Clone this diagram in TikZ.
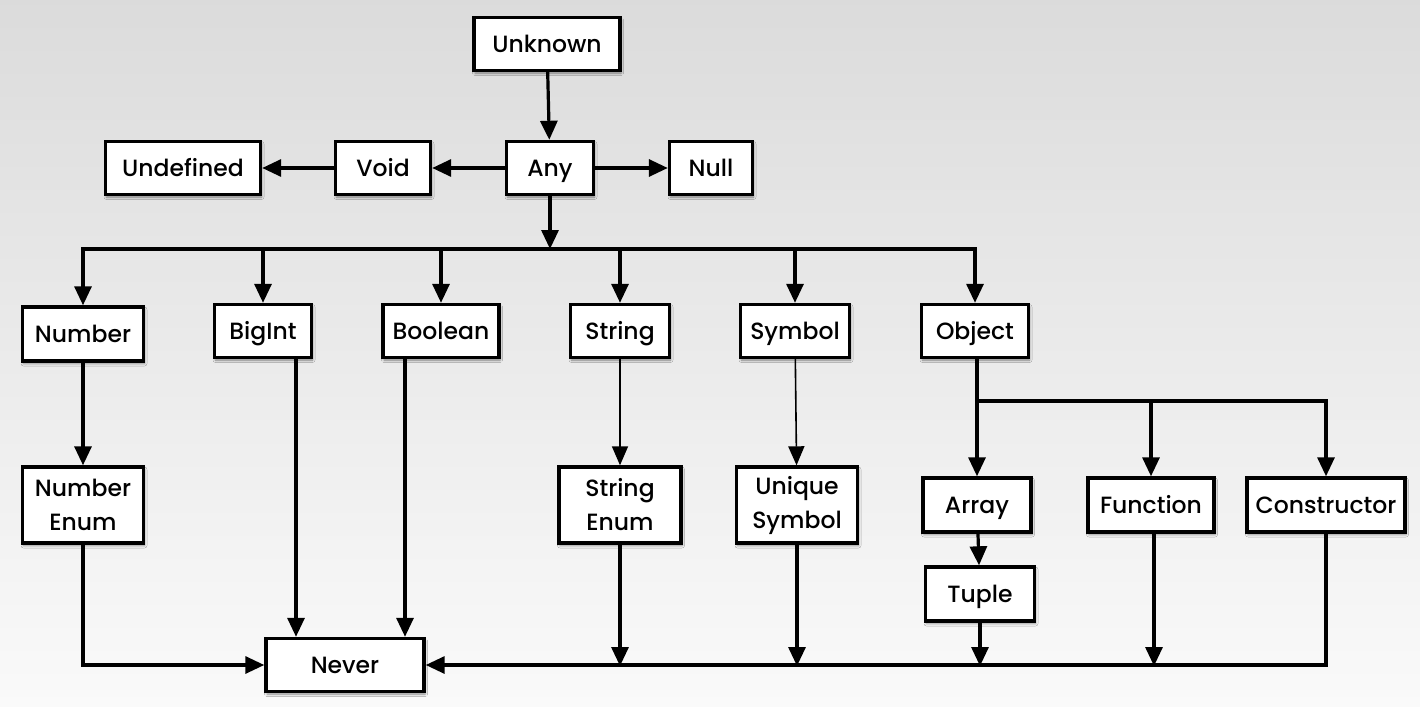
\documentclass[tikz,border=0pt]{standalone}
\usepackage{fontspec}
\setmainfont{Poppins}[UprightFont={* Medium}]
\usetikzlibrary{arrows.meta,shadows.blur,calc}
\begin{document}
\begin{tikzpicture}[x=1pt,y=-1pt,
  box/.style={draw, line width=3.4pt, fill=white, inner sep=0pt, align=center,
    font=\fontsize{23.5}{34}\selectfont,
    blur shadow={shadow xshift=1pt, shadow yshift=-2.5pt, shadow blur radius=2.5pt, shadow opacity=45}},
  one/.style={box, text height=16.5pt, text depth=0pt},
  arr/.style={line width=3.2pt, -{Triangle[length=19pt,width=17pt]}},
  thinarr/.style={line width=1.6pt, -{Triangle[length=19pt,width=16pt]}},
  busline/.style={line width=3.2pt, line cap=rect}]
\shade[top color=black!14, bottom color=black!2] (0,0) rectangle (1420,706);
\useasboundingbox (0,0) rectangle (1420,706);
% nodes
\node[one, minimum width=146, minimum height=53] (unknown) at (547,44) {Unknown};
\node[one, minimum width=87, minimum height=53] (any) at (550,168) {Any};
\node[one, minimum width=95, minimum height=53] (void) at (383,168) {Void};
\node[one, minimum width=155, minimum height=53] (undefined) at (183,168) {Undefined};
\node[one, minimum width=83, minimum height=53] (null) at (711,168) {Null};
\node[one, minimum width=121, minimum height=54] (number) at (83,334) {Number};
\node[one, minimum width=97, minimum height=53] (bigint) at (263,331) {BigInt};
\node[one, minimum width=116, minimum height=53] (boolean) at (441,331) {Boolean};
\node[one, minimum width=99, minimum height=53] (string) at (620,331) {String};
\node[one, minimum width=109, minimum height=53] (symbol) at (795,331) {Symbol};
\node[one, minimum width=107, minimum height=53] (object) at (975,331) {Object};
\node[box, minimum width=121, minimum height=76] (numenum) at (83,505) {Number\\Enum};
\node[box, minimum width=122, minimum height=76] (strenum) at (620,505) {String\\Enum};
\node[box, minimum width=121, minimum height=76] (unisym) at (797,505) {Unique\\Symbol};
\node[one, minimum width=108, minimum height=54] (array) at (977,505) {Array};
\node[one, minimum width=109, minimum height=54] (tuple) at (980,594) {Tuple};
\node[one, minimum width=126, minimum height=54] (function) at (1151,505) {Function};
\node[one, minimum width=158, minimum height=54] (constructor) at (1326,505) {Constructor};
\node[one, minimum width=158, minimum height=53] (never) at (345,665) {Never};
% helper coordinates
\coordinate (topbus) at (550,249);
\coordinate (objbus) at (977,401);
\coordinate (botbus) at (0,666);
\coordinate (bigx) at (296,0);
\coordinate (boolx) at (405,0);
\coordinate (funx) at (1154,0);
% top part
\draw[arr] (unknown) -- (any);
\draw[arr] (any) -- (void);
\draw[arr] (void) -- (undefined);
\draw[arr] (any) -- (null);
\draw[arr] (any) -- (topbus);
\draw[busline] (number.north |- topbus) -- (object.north |- topbus);
\foreach \n in {number,bigint,boolean,string,symbol,object}
  \draw[arr] (\n.north |- topbus) -- (\n.north);
% second level
\draw[arr] (number) -- (numenum);
\draw[thinarr] (string) -- (strenum);
\draw[thinarr] (symbol) -- (unisym);
\draw[busline, line cap=butt] (object.south -| objbus) -- (objbus);
\draw[busline] (objbus) -- (constructor.north |- objbus);
\draw[arr] (objbus) -- (array.north);
\draw[arr] (function.north |- objbus) -- (function.north);
\draw[arr] (constructor.north |- objbus) -- (constructor.north);
\draw[arr] (array) -- (tuple);
% bottom part
\draw[arr] (numenum.south) |- (never.west);
\draw[arr] (constructor.south) |- (never.east);
\draw[arr] (bigint.south -| bigx) -- (never.north -| bigx);
\draw[arr] (boolean.south -| boolx) -- (never.north -| boolx);
\draw[arr] (strenum.south) -- (strenum.south |- botbus);
\draw[arr] (unisym.south) -- (unisym.south |- botbus);
\draw[arr] (tuple.south) -- (tuple.south |- botbus);
\draw[arr] (function.south -| funx) -- (funx |- botbus);
\end{tikzpicture}
\end{document}
